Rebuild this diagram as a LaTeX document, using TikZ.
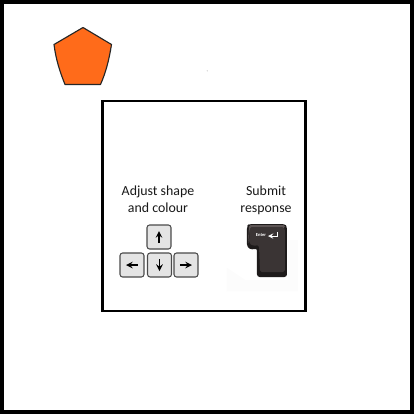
\documentclass[tikz,border=0pt]{standalone}
\usepackage{fontspec}
\setmainfont{Carlito}
\usetikzlibrary{arrows}
\definecolor{shapeorange}{RGB}{255,107,26}
\definecolor{keyface}{RGB}{228,228,228}
\definecolor{keyrim}{RGB}{74,74,74}
\definecolor{enterrim}{RGB}{30,27,27}
\definecolor{enterface}{RGB}{58,52,52}
\definecolor{entertop}{RGB}{92,84,84}
\tikzset{
    arrowkey/.style={draw=keyrim,fill=keyface,line width=0.6pt,rounded corners=1.5pt,minimum size=0.48cm,inner sep=0pt},
    keyarrow/.style={-stealth,black,line width=0.7pt},
    labeltext/.style={align=center,font=\fontsize{7.9}{9.7}\selectfont,text=black!90,inner sep=0pt}
}
\begin{document}
\begin{tikzpicture}[x=0.02cm,y=-0.02cm]
    \useasboundingbox (0,0) rectangle (414,414);
    % outer frame
    \fill[white] (0,0) rectangle (414,414);
    \draw[black,line width=2.3pt] (2,2) rectangle (412,412);
    % pentagon
    \draw[fill=shapeorange,draw=black!85,line width=0.65pt,line join=round] (83,27.5) -- (111.5,44.5) .. controls (109,60) and (106,72) .. (100.5,84.5) -- (65,84.5) .. controls (60,72) and (56,60) .. (54,44.5) -- cycle;
    % speck
    \fill[black!18] (207.3,70.8) circle (0.7);
    % panel
    \draw[black,line width=1.3pt] (102.5,101) rectangle (305.5,311);
    % labels
    \node[labeltext] (adjustlabel) at (158,199.5) {Adjust shape\\and colour};
    \node[labeltext] (submitlabel) at (266,200.5) {Submit\\response};
    % arrow keys
    \node[arrowkey] (keyup) at (159,237) {};
    \node[arrowkey] (keyleft) at (132,265) {};
    \node[arrowkey] (keydown) at (159.5,265) {};
    \node[arrowkey] (keyright) at (186,265) {};
    \draw[keyarrow] (keyup.center) ++(0,6) -- ++(0,-12);
    \draw[keyarrow] (keyleft.center) ++(6,0) -- ++(-12,0);
    \draw[keyarrow] (keydown.center) ++(0,-6) -- ++(0,12);
    \draw[keyarrow] (keyright.center) ++(-6,0) -- ++(12,0);
    % enter key
    \fill[black!1] (227,268) -- (227,291) -- (298,291) -- (298,240) -- (288,240) -- (288,280) -- (245,280) -- cycle;
    \fill[enterrim,rounded corners=1.5pt] (249,224) -- (285,224) -- (287,227) -- (287,277) -- (257,277) -- (257,248) -- (252,250) -- (247,247) -- (247,226) -- cycle;
    \fill[entertop,rounded corners=1pt] (249,225) -- (285,225) -- (285.5,228) -- (250,228) -- (248,245) -- cycle;
    \fill[enterface,rounded corners=1pt] (250,227) -- (284,227) -- (285,230) -- (285,272) -- (260,272) -- (259,245) -- (253,246) -- (249,243) -- cycle;
    \node[text=white,inner sep=0pt,font=\fontsize{2.6}{3}\selectfont\bfseries] (entertext) at (261,235.5) {Enter};
    \coordinate (enterhook) at (277,232);
    \draw[-stealth,white,line width=0.35pt] (enterhook) -- ++(0,4) -- ++(-9,0);
\end{tikzpicture}
\end{document}
